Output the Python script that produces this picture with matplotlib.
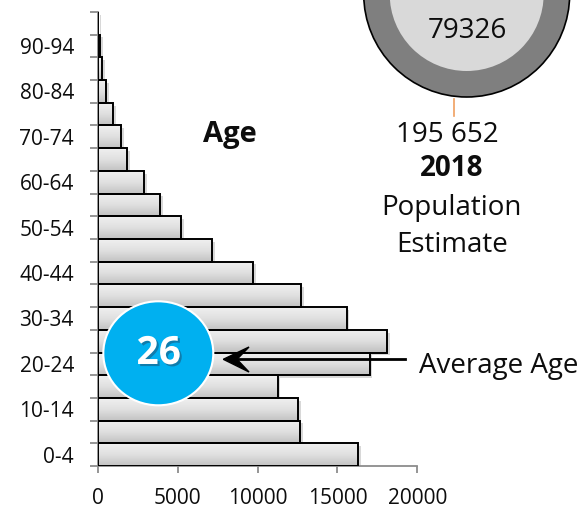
import numpy as np
import matplotlib
matplotlib.use('Agg')
import matplotlib.pyplot as plt
from matplotlib.patches import Circle, Ellipse, Polygon
from matplotlib.colors import LinearSegmentedColormap
import matplotlib.patheffects as pe

age_groups = ['0-4', '5-9', '10-14', '15-19', '20-24', '25-29', '30-34', '35-39',
              '40-44', '45-49', '50-54', '55-59', '60-64', '65-69', '70-74', '75-79',
              '80-84', '85-89', '90-94', '95+']
population = [16300, 12640, 12550, 11260, 17010, 18090, 15570, 12720, 9720, 7160,
              5220, 3890, 2910, 1840, 1470, 970, 550, 280, 160, 40]
x_ticks = [0, 5000, 10000, 15000, 20000]
total_population = '195 652'
year_label = '2018'
donut_value = '79326'
average_age = 26

plt.rcParams['font.family'] = ['Open Sans', 'DejaVu Sans']
TXT = '#0d0d0d'

W, H = 587, 512
fig = plt.figure(figsize=(W / 100, H / 100), dpi=100)
ax = fig.add_axes([97.5 / W, 1 - 466 / H, (417.5 - 97.5) / W, (466 - 12) / H])

ypos = np.arange(len(age_groups))
grad = np.linspace(0, 1, 64).reshape(-1, 1)
cmap = LinearSegmentedColormap.from_list('bargrad', ['#c2c2c2', '#e0e0e0', '#f0f0f0'])

# shadows
ax.barh(ypos, population, height=1.0, color='none', zorder=1,
        path_effects=[pe.SimplePatchShadow(offset=(2, -2), shadow_rgbFace='#aaaaaa', alpha=0.45)])
for y, v in zip(ypos, population):
    ax.imshow(grad, extent=(0, v, y - 0.5, y + 0.5), origin='lower', cmap=cmap,
              aspect='auto', zorder=2, interpolation='bilinear')
ax.barh(ypos, population, height=1.0, facecolor='none', edgecolor='black',
        linewidth=1.4, zorder=3)

ax.set_xlim(0, 20000)
ax.set_ylim(-0.5, len(age_groups) - 0.5)
ax.set_aspect('auto')
for s in ['top', 'right']:
    ax.spines[s].set_visible(False)
for s in ['left', 'bottom']:
    ax.spines[s].set_color('#8c8c8c')
    ax.spines[s].set_linewidth(1.3)

ax.set_yticks(ypos[::2])
ax.set_yticklabels(age_groups[::2])
ax.set_yticks(np.arange(-0.5, len(age_groups), 1), minor=True)
ax.tick_params(axis='y', which='major', length=0, pad=17, labelsize=15, labelcolor=TXT)
ax.tick_params(axis='y', which='minor', length=6, width=1.3, color='#8c8c8c')
ax.set_xticks(x_ticks)
ax.set_xticklabels([str(t) for t in x_ticks])
ax.tick_params(axis='x', length=5, width=1.3, color='#8c8c8c', pad=11, labelsize=15, labelcolor=TXT)

# overlay in pixel coordinates
ov = fig.add_axes([0, 0, 1, 1], zorder=5)
ov.set_xlim(0, W)
ov.set_ylim(H, 0)
ov.axis('off')
ov.patch.set_alpha(0)

ov.add_patch(Circle((466.7, -6), 103, facecolor='#7f7f7f', edgecolor='black', lw=1.2))
ov.add_patch(Circle((466.7, -6), 77, facecolor='#d9d9d9', edgecolor='none'))
ov.text(467, 38.3, donut_value, ha='center', va='baseline', fontsize=20, color=TXT)
ov.plot([453.7, 453.7], [99, 116], color='#f0a060', lw=1.2)

ov.text(447.5, 141.7, total_population, ha='center', va='baseline', fontsize=20, color=TXT)
ov.text(451.7, 176, year_label, ha='center', va='baseline', fontsize=20, fontweight='bold', color=TXT)
ov.text(451, 214.5, 'Population', ha='center', va='baseline', fontsize=20, color=TXT)
ov.text(451.7, 251.7, 'Estimate', ha='center', va='baseline', fontsize=20, color=TXT)
ov.text(230, 141.7, 'Age', ha='center', va='baseline', fontsize=21, fontweight='bold', color=TXT)

# average age marker
ov.add_patch(Ellipse((158.3, 353.3), 110, 104, facecolor='#00b0f0', edgecolor='white', lw=1.5))
ov.text(158.7, 364, str(average_age), ha='center', va='baseline', fontsize=28,
        fontweight='bold', color='white',
        path_effects=[pe.withSimplePatchShadow(offset=(1.5, -1.5), shadow_rgbFace='#1a5a80', alpha=0.6)])
ov.plot([237, 405], [359.3, 359.3], color='black', lw=2)
ov.add_patch(Polygon([(223.3, 359.3), (249, 347), (237, 359.3), (249, 372)],
                     closed=True, facecolor='black', edgecolor='black', lw=1))
ov.text(419, 373.3, 'Average Age', ha='left', va='baseline', fontsize=20, color=TXT)

fig.savefig('out.png', dpi=100)
